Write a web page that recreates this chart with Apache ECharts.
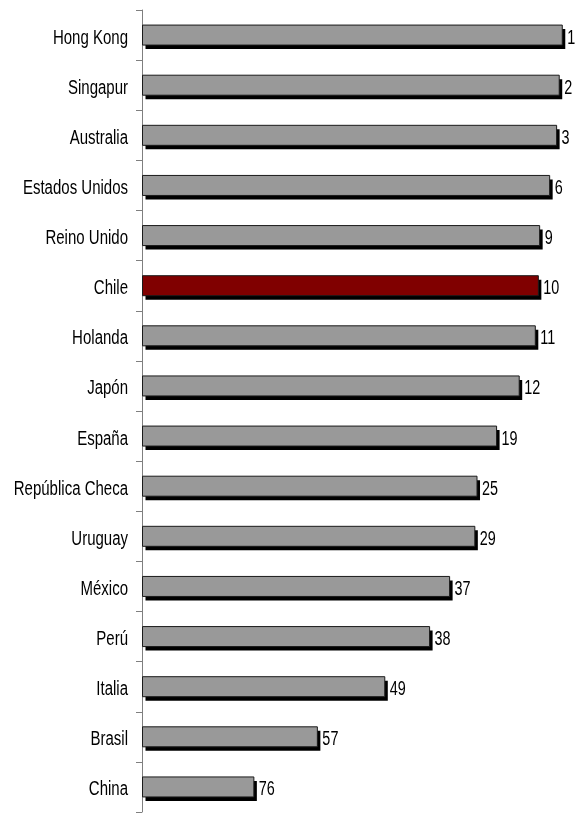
<!DOCTYPE html>
<html>
<head>
<meta charset="utf-8">
<script src="https://cdn.jsdelivr.net/npm/echarts@6/dist/echarts.min.js"></script>
<style>
html,body{margin:0;padding:0;background:#fff;}
#chart{width:577px;height:813px;}
</style>
</head>
<body>
<div id="chart"></div>
<script>
const countries = ["Hong Kong","Singapur","Australia","Estados Unidos","Reino Unido","Chile","Holanda","Japón","España","República Checa","Uruguay","México","Perú","Italia","Brasil","China"];
const scores = [96.5,95.8,95.2,93.6,91.3,91.0,90.3,86.6,81.4,76.9,76.4,70.6,66.0,55.7,40.2,25.6];
const ranks = [1,2,3,6,9,10,11,12,19,25,29,37,38,49,57,76];
const highlight = "Chile";

const FONT = '"Liberation Sans", Arial, sans-serif';

const chart = echarts.init(document.getElementById('chart'));
chart.setOption({
  animation: false,
  backgroundColor: '#fff',
  grid: {left: 142, right: 0, top: 10, bottom: 1, containLabel: false, outerBoundsMode: 'none'},
  xAxis: {type: 'value', min: 0, max: 100, show: false},
  yAxis: {
    type: 'category',
    inverse: true,
    data: countries,
    axisLine: {show: true, lineStyle: {color: '#7f7f7f', width: 1}},
    axisTick: {show: true, length: 6, lineStyle: {color: '#7f7f7f'}},
    axisLabel: {show: false}
  },
  series: [{
    type: 'custom',
    data: scores.map((v, i) => [v, i]),
    encode: {x: 0, y: 1},
    renderItem: function (params, api) {
      const v = api.value(0), idx = api.value(1);
      const start = api.coord([0, idx]);
      const end = api.coord([v, idx]);
      const h = 20;
      const x0 = start[0] + 0.5, y0 = start[1] - h / 2;
      const w = end[0] - start[0];
      const isHi = countries[idx] === highlight;
      return {
        type: 'group',
        children: [
          {type: 'rect', shape: {x: x0 + 3, y: y0 + 4, width: w, height: h}, style: {fill: '#000'}},
          {type: 'rect', shape: {x: x0, y: y0, width: w, height: h},
           style: {fill: isHi ? '#800000' : '#999999', stroke: '#1a1a1a', lineWidth: 1}},
          {type: 'text', x: end[0] + 5.5, y: start[1] + 3, scaleX: 0.72,
           style: {text: String(ranks[idx]), fill: '#000', font: '20px ' + FONT,
                   textAlign: 'left', textVerticalAlign: 'middle'}},
          {type: 'text', x: start[0] - 14, y: start[1] + 3, scaleX: 0.75,
           style: {text: countries[idx], fill: '#000', font: '20px ' + FONT,
                   textAlign: 'right', textVerticalAlign: 'middle'}}
        ]
      };
    }
  }]
});
</script>
</body>
</html>
